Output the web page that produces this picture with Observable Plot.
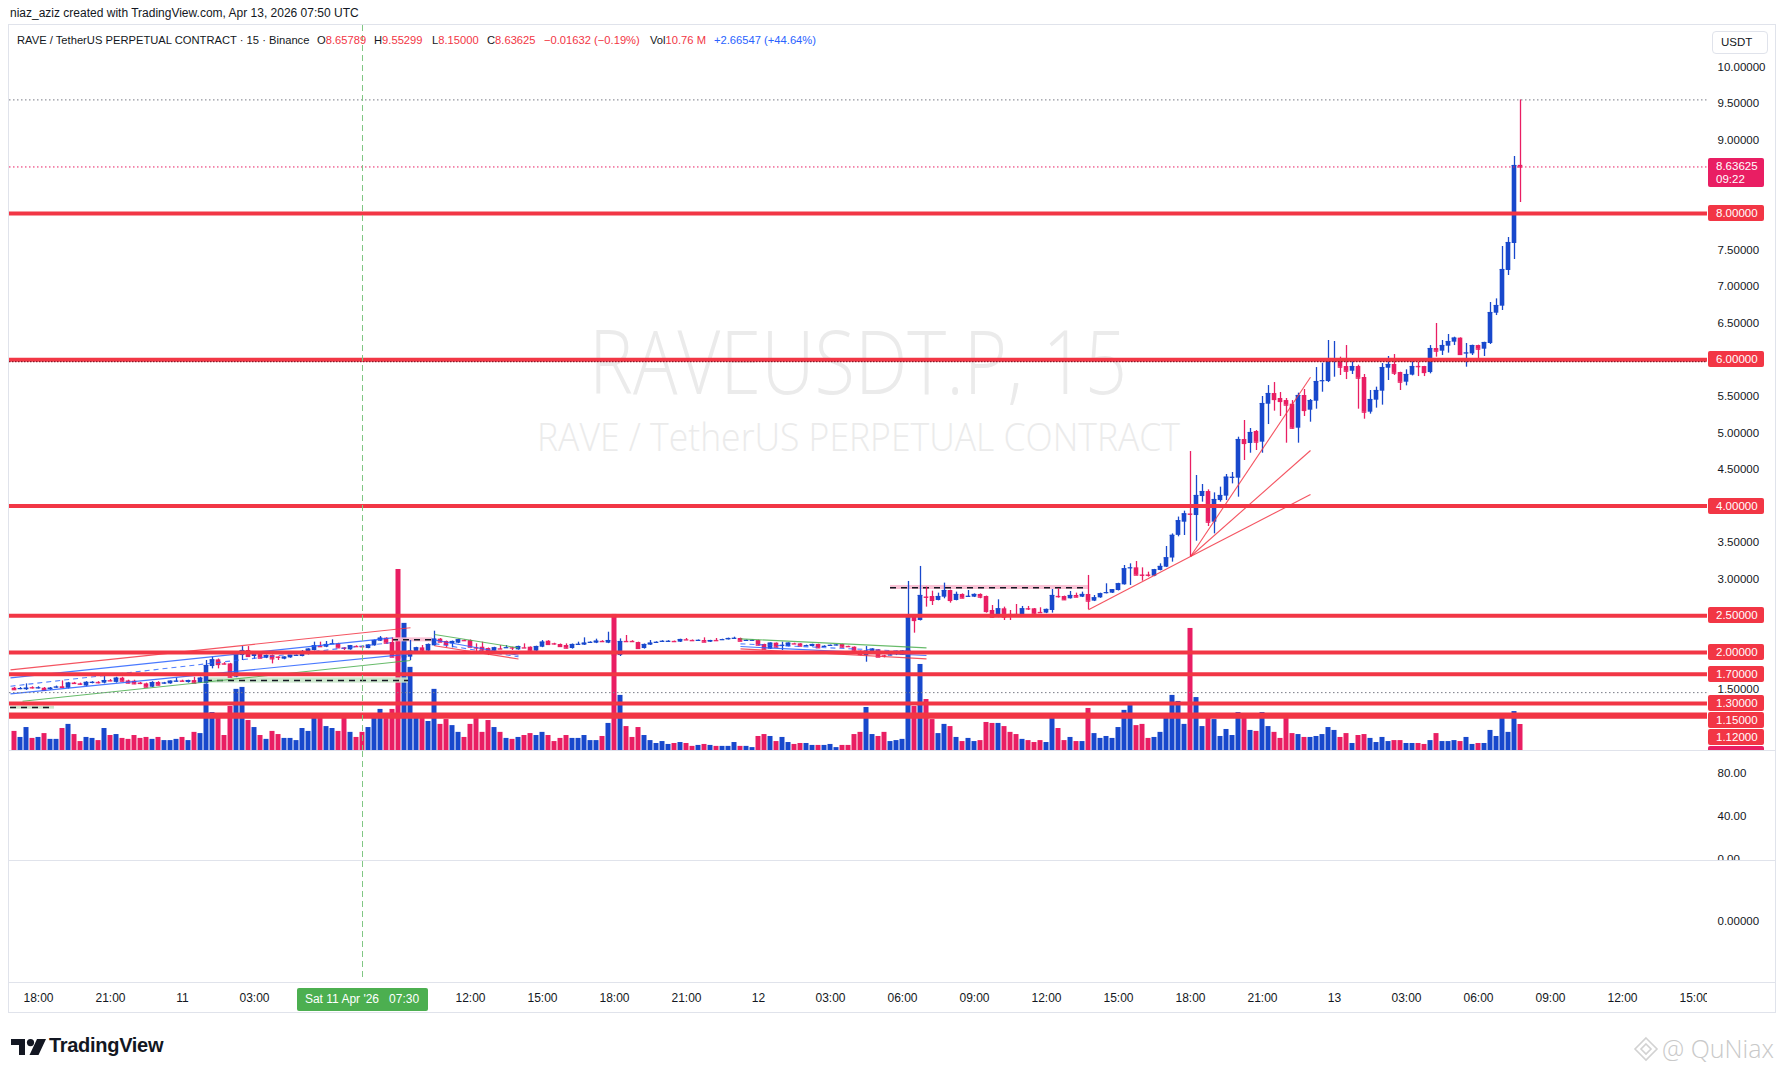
<!DOCTYPE html>
<html><head><meta charset="utf-8">
<script src="https://cdn.jsdelivr.net/npm/d3@7"></script>
<script src="https://cdn.jsdelivr.net/npm/@observablehq/plot@0.6"></script>
<style>
html,body{margin:0;padding:0;background:#fff;}
body{width:1785px;height:1073px;position:relative;overflow:hidden;font-family:"Liberation Sans",Arial,sans-serif;color:#131722;}
.abs{position:absolute;white-space:nowrap;}
.pane{position:absolute;overflow:hidden;}
.pane svg{position:absolute;left:0;top:0;}
.lbl{position:absolute;left:1699px;width:56px;height:16px;line-height:16px;color:#fff;font-size:11.5px;padding-left:8px;box-sizing:border-box;border-radius:2px;}
.sep{position:absolute;left:9px;width:1766px;height:1px;background:#e0e3eb;}
.lg{position:absolute;top:9px;font-size:11.2px;white-space:nowrap;}
.r{color:#f23645}.b{color:#2962ff}
</style></head><body>
<div class="abs" style="left:10px;top:6px;font-size:12px;">niaz_aziz created with TradingView.com, Apr 13, 2026 07:50 UTC</div>
<div class="abs" style="left:8px;top:24px;width:1766px;height:987px;border:1px solid #e0e3eb;"></div>
<div id="p1" class="pane" style="left:9px;top:25px;width:1766px;height:725px;"></div>
<div class="sep" style="top:750px"></div>
<div id="p2" class="pane" style="left:9px;top:751px;width:1766px;height:109px;"></div>
<div class="sep" style="top:860px"></div>
<div id="p3" class="pane" style="left:9px;top:861px;width:1766px;height:121px;"></div>
<div class="sep" style="top:982px"></div>
<div id="tx" class="pane" style="left:9px;top:983px;width:1698px;height:29px;"></div>
<svg class="abs" style="left:11px;top:1039px" width="36" height="16" viewBox="0 0 36 16"><path d="M0 0h14v16H8V6H0z" fill="#131722"/><circle cx="19.5" cy="3.6" r="3.6" fill="#131722"/><path d="M26 0h9l-7.5 16h-9z" fill="#131722"/></svg>
<div class="abs" style="left:49px;top:1034px;font-size:20px;font-weight:bold;letter-spacing:-0.3px;">TradingView</div>
<svg class="abs" style="left:1633px;top:1036px" width="26" height="26" viewBox="0 0 26 26"><g fill="none" stroke="#d2d2d2" stroke-width="1.6"><path d="M13 2l11 11-11 11L2 13z"/><path d="M13 8l5 5-5 5-5-5z"/></g></svg>
<div class="abs" style="left:1662px;top:1031px;font-size:25px;color:#c9c9c9;font-family:'Open Sans',sans-serif;font-weight:300;">@ QuNiax</div>
<script>
const BLUE = "#1848cc", RED = "#e91e63", LEVEL = "#f23645";
const startTime = Date.UTC(2026, 3, 10, 17, 0); // first 15-min candle
const open = [
1.51,1.50,1.49,1.52,1.51,1.51,1.49,1.52,1.53,1.51,
1.58,1.57,1.54,1.585,1.59,1.58,1.615,1.59,1.647,1.61,
1.606,1.58,1.57,1.524,1.588,1.575,1.57,1.60,1.61,1.588,
1.615,1.579,1.57,1.807,1.898,1.845,1.843,1.661,1.957,2.026,
1.944,1.980,1.921,1.957,1.937,1.907,1.925,1.955,1.944,1.971,
2.026,2.082,2.071,2.115,2.117,2.060,2.035,2.082,2.080,2.053,
2.090,2.153,2.194,2.135,1.96,1.92,1.935,2.003,2.062,2.017,
2.090,2.181,2.149,2.117,2.126,2.164,2.162,2.064,2.071,2.053,
2.017,2.050,2.060,2.064,2.035,2.064,2.071,2.017,2.071,2.153,
2.119,2.108,2.094,2.053,2.106,2.099,2.133,2.126,2.151,2.126,
2.162,1.957,2.151,2.151,2.135,2.053,2.099,2.133,2.147,2.147,
2.151,2.140,2.174,2.164,2.160,2.162,2.140,2.164,2.170,2.172,
2.188,2.190,2.160,2.161,2.162,2.108,2.044,2.126,2.092,2.080,
2.119,2.117,2.088,2.080,2.108,2.078,2.092,2.097,2.108,2.082,
2.071,2.017,1.957,1.989,2.035,1.955,1.960,1.987,1.962,2.003,
2.482,2.436,2.757,2.764,2.710,2.755,2.846,2.710,2.792,2.762,
2.755,2.792,2.764,2.573,2.482,2.596,2.520,2.520,2.518,2.598,
2.596,2.547,2.537,2.573,2.766,2.764,2.733,2.778,2.755,2.792,
2.701,2.746,2.813,2.810,2.846,2.924,3.152,3.156,3.058,3.058,
3.042,3.120,3.165,3.29,3.60,3.780,3.892,3.871,4.131,4.199,
3.780,4.076,4.136,4.389,4.382,4.910,4.856,5.020,4.874,5.393,
5.539,5.471,5.443,5.393,5.065,5.512,5.311,5.434,5.710,5.703,
5.979,5.981,5.908,5.844,5.908,5.758,5.284,5.448,5.571,5.885,
5.936,5.826,5.694,5.790,5.910,5.908,5.826,6.154,6.118,6.186,
6.241,6.296,6.089,6.081,6.195,6.145,6.223,6.637,6.733,7.221,
7.590,8.65789];
const high = [
1.52,1.52,1.57,1.53,1.53,1.52,1.52,1.54,1.61,1.59,
1.59,1.58,1.60,1.60,1.60,1.67,1.63,1.66,1.66,1.62,
1.62,1.59,1.58,1.60,1.60,1.59,1.61,1.65,1.62,1.62,
1.66,1.66,1.889,1.935,1.91,1.86,1.85,1.98,2.080,2.080,
1.995,1.99,1.965,1.965,1.94,1.94,1.96,1.965,2.026,2.05,
2.140,2.140,2.149,2.172,2.125,2.065,2.095,2.09,2.09,2.105,
2.17,2.217,2.20,2.199,1.99,2.0,2.162,2.07,2.094,2.115,
2.290,2.19,2.155,2.155,2.18,2.17,2.17,2.117,2.140,2.06,
2.07,2.094,2.094,2.07,2.085,2.117,2.075,2.085,2.162,2.16,
2.125,2.115,2.117,2.115,2.140,2.199,2.145,2.181,2.16,2.276,
2.25,2.185,2.231,2.16,2.14,2.115,2.162,2.145,2.16,2.16,
2.155,2.18,2.19,2.17,2.17,2.199,2.165,2.19,2.18,2.195,
2.208,2.195,2.17,2.17,2.168,2.112,2.13,2.13,2.140,2.13,
2.125,2.12,2.10,2.112,2.112,2.09,2.10,2.105,2.112,2.085,
2.075,2.02,2.080,2.05,2.04,1.96,1.97,2.017,2.022,2.970,
2.505,3.175,2.892,2.837,2.81,2.947,2.85,2.824,2.80,2.846,
2.80,2.80,2.77,2.641,2.719,2.619,2.573,2.655,2.628,2.628,
2.60,2.610,2.592,2.860,2.869,2.77,2.833,2.81,2.824,3.052,
2.778,2.81,2.938,2.86,2.945,3.188,3.211,3.243,3.156,3.097,
3.135,3.211,3.448,3.62,3.85,3.931,4.746,4.418,4.295,4.222,
4.181,4.259,4.432,4.459,4.942,5.170,5.061,5.033,5.498,5.648,
5.689,5.553,5.471,5.443,5.544,5.594,5.457,5.894,5.954,6.264,
6.250,6.036,6.195,5.977,5.926,5.799,5.580,5.626,5.949,6.045,
6.072,5.83,5.863,5.990,5.963,5.91,6.195,6.496,6.264,6.346,
6.309,6.30,6.223,6.20,6.20,6.24,6.783,6.833,7.549,7.672,
8.779,9.55299];
const low = [
1.48,1.49,1.48,1.50,1.50,1.47,1.48,1.51,1.51,1.50,
1.57,1.55,1.53,1.57,1.57,1.57,1.60,1.58,1.60,1.57,
1.56,1.56,1.52,1.52,1.545,1.565,1.565,1.595,1.60,1.58,
1.575,1.575,1.565,1.775,1.775,1.83,1.655,1.655,1.889,1.94,
1.907,1.915,1.915,1.843,1.889,1.90,1.92,1.95,1.94,1.965,
2.02,2.07,2.065,2.11,2.055,2.026,2.03,2.07,2.07,2.05,
2.085,2.15,2.12,1.93,1.90,1.90,1.889,2.0,1.989,2.01,
2.085,2.135,2.062,2.062,2.12,2.15,2.065,2.003,1.980,1.957,
1.989,2.04,2.055,2.026,2.03,2.055,2.01,2.01,2.065,2.10,
2.10,2.075,2.05,2.045,2.10,2.095,2.125,2.12,2.14,2.12,
1.94,1.944,2.14,2.14,2.045,2.045,2.095,2.125,2.14,2.14,
2.14,2.135,2.165,2.155,2.155,2.135,2.135,2.155,2.165,2.17,
2.185,2.15,2.155,2.155,2.09,2.035,2.04,2.065,2.026,2.075,
2.11,2.08,2.08,2.075,2.055,2.07,2.085,2.09,2.065,2.07,
2.01,1.953,1.866,1.985,1.93,1.925,1.955,1.957,1.958,1.98,
2.263,2.43,2.619,2.641,2.705,2.733,2.673,2.705,2.735,2.755,
2.75,2.733,2.537,2.468,2.475,2.436,2.436,2.51,2.51,2.573,
2.52,2.535,2.53,2.537,2.742,2.71,2.73,2.75,2.75,2.582,
2.695,2.74,2.80,2.805,2.84,2.92,2.915,3.05,2.974,3.029,
3.035,3.115,3.16,3.234,3.58,3.598,3.302,3.520,4.054,3.721,
3.621,4.054,4.076,4.304,4.122,4.623,4.723,4.760,4.723,5.115,
5.298,5.225,4.860,5.052,4.860,5.225,5.147,5.325,5.557,5.689,
5.762,5.785,5.730,5.799,5.325,5.188,5.257,5.339,5.380,5.717,
5.785,5.580,5.644,5.78,5.771,5.771,5.808,6.036,6.059,6.091,
6.195,6.059,5.899,6.059,6.009,6.045,6.209,6.605,6.674,7.152,
7.371,8.15];
const close = [
1.49,1.505,1.51,1.515,1.515,1.48,1.51,1.525,1.52,1.58,
1.575,1.565,1.59,1.59,1.585,1.615,1.61,1.647,1.606,1.58,
1.57,1.575,1.524,1.588,1.552,1.58,1.606,1.606,1.605,1.615,
1.579,1.647,1.821,1.898,1.834,1.840,1.661,1.971,2.026,1.944,
1.989,1.921,1.957,1.912,1.933,1.935,1.957,1.96,1.989,2.044,
2.090,2.078,2.108,2.118,2.062,2.056,2.090,2.078,2.076,2.099,
2.162,2.194,2.126,1.935,1.92,1.95,2.017,2.062,2.017,2.108,
2.181,2.140,2.108,2.149,2.172,2.160,2.071,2.060,2.035,2.003,
2.062,2.046,2.064,2.060,2.080,2.060,2.017,2.080,2.140,2.108,
2.115,2.080,2.058,2.108,2.110,2.126,2.137,2.153,2.147,2.162,
1.96,2.149,2.147,2.147,2.053,2.108,2.126,2.137,2.151,2.151,
2.147,2.176,2.170,2.160,2.164,2.140,2.162,2.160,2.174,2.190,
2.192,2.153,2.164,2.165,2.099,2.044,2.126,2.071,2.096,2.126,
2.115,2.085,2.092,2.108,2.062,2.082,2.096,2.101,2.071,2.078,
2.017,1.971,2.017,2.044,1.935,1.951,1.964,1.991,2.017,2.473,
2.436,2.778,2.753,2.710,2.764,2.846,2.710,2.792,2.742,2.766,
2.792,2.755,2.559,2.482,2.596,2.482,2.516,2.516,2.596,2.594,
2.527,2.543,2.587,2.778,2.762,2.719,2.778,2.755,2.792,2.701,
2.746,2.801,2.817,2.856,2.938,3.143,3.156,3.056,3.054,3.054,
3.129,3.175,3.293,3.60,3.80,3.894,3.888,4.145,4.199,3.780,
4.090,4.145,4.395,4.393,4.910,4.856,5.006,4.874,5.402,5.539,
5.457,5.430,5.380,5.065,5.512,5.307,5.443,5.703,5.714,5.977,
5.983,5.899,5.844,5.908,5.749,5.284,5.457,5.580,5.894,5.936,
5.817,5.694,5.799,5.908,5.906,5.826,6.154,6.118,6.195,6.250,
6.296,6.072,6.093,6.195,6.145,6.236,6.646,6.742,7.234,7.603,
8.656,8.63625];
const volume = [ // millions
7.9,5.4,9.5,5.0,5.4,7.0,4.6,4.6,9.1,10.8,
6.6,3.7,5.4,5.0,4.1,9.1,6.2,6.6,5.0,4.6,
6.2,5.0,5.4,4.6,5.4,4.1,4.1,4.6,5.4,4.1,
7.5,7.0,27.3,15.7,14.5,6.2,18.2,25.3,26.1,12.4,
9.5,6.2,4.6,7.9,6.6,5.0,5.0,4.1,9.1,7.9,
13.7,14.5,9.9,9.1,7.9,14.1,7.5,5.4,7.5,9.5,
15.3,17.0,13.2,17.0,74.9,52.6,34.4,13.7,14.1,12.0,
25.3,10.8,12.8,10.3,7.5,5.4,10.8,13.2,7.5,12.4,
9.5,7.5,5.0,4.6,5.4,6.2,7.0,6.2,7.5,6.2,
3.7,5.0,6.2,5.0,5.0,6.2,4.1,4.1,5.8,11.2,
56.3,22.8,9.9,5.4,9.5,6.2,4.1,2.9,3.7,2.5,
2.9,3.3,2.9,1.7,2.1,2.5,2.1,1.7,1.7,1.7,
3.3,1.7,1.7,1.2,5.8,6.6,5.8,3.7,5.4,3.3,
2.5,2.9,2.9,2.1,2.1,2.1,2.5,1.2,2.1,2.1,
6.6,7.5,17.8,6.6,5.8,7.5,3.7,4.1,4.6,41.4,
18.2,35.6,21.1,12.8,7.0,10.8,9.9,5.4,3.7,5.0,
3.7,4.1,11.6,11.2,11.2,9.9,7.5,6.6,4.6,4.1,
3.3,4.1,3.3,13.7,9.1,4.1,5.4,3.7,3.7,17.4,
7.0,5.0,5.8,5.0,9.5,16.6,18.6,10.3,10.8,5.0,
5.4,7.5,14.9,22.8,20.3,10.8,50.5,21.9,9.9,13.7,
12.8,5.8,8.7,6.2,15.7,14.1,8.3,7.9,15.7,9.9,
7.5,5.0,13.2,7.0,6.6,5.4,5.4,5.8,6.6,9.5,
8.3,5.4,7.0,2.9,6.2,6.6,5.0,3.3,5.4,3.7,
4.1,4.1,2.9,2.9,2.9,2.5,4.1,7.0,3.7,3.7,
4.1,3.7,5.4,2.5,2.9,2.9,8.3,5.8,14.5,7.5,
16.1,10.76];

const levels = [8.0, 6.0, 4.0, 2.5, 2.0, 1.7, 1.3, 1.15, 1.12];
const priceTicks = [10, 9.5, 9, 7.5, 7, 6.5, 5.5, 5, 4.5, 3.5, 3, 1.5];
const lastPrice = 8.63625, sessionHigh = 9.55299, greyDotted = 1.45, darkDotted = 5.975;
const crossTime = new Date("2026-04-11T07:30Z");
const tickTimes = ["2026-04-10T18:00Z","2026-04-10T21:00Z","2026-04-11T00:00Z","2026-04-11T03:00Z","2026-04-11T12:00Z","2026-04-11T15:00Z","2026-04-11T18:00Z","2026-04-11T21:00Z","2026-04-12T00:00Z","2026-04-12T03:00Z","2026-04-12T06:00Z","2026-04-12T09:00Z","2026-04-12T12:00Z","2026-04-12T15:00Z","2026-04-12T18:00Z","2026-04-12T21:00Z","2026-04-13T00:00Z","2026-04-13T03:00Z","2026-04-13T06:00Z","2026-04-13T09:00Z","2026-04-13T12:00Z","2026-04-13T15:00Z"];
const tickLabels = ["18:00","21:00","11","03:00","12:00","15:00","18:00","21:00","12","03:00","06:00","09:00","12:00","15:00","18:00","21:00","13","03:00","06:00","09:00","12:00","15:00"];

// drawings: trend lines [t1, p1, t2, p2, color]
const trendSolid = [
 ["2026-04-10T16:50Z",1.761,"2026-04-11T09:30Z",2.336,"#f23645"],
 ["2026-04-10T16:50Z",1.652,"2026-04-11T08:45Z",2.199,"#2962ff"],
 ["2026-04-10T16:50Z",1.433,"2026-04-11T09:30Z",1.980,"#2962ff"],
 ["2026-04-10T17:20Z",1.333,"2026-04-11T09:30Z",1.889,"#4caf50"],
 ["2026-04-11T10:30Z",2.244,"2026-04-11T14:00Z",2.062,"#4caf50"],
 ["2026-04-11T10:30Z",2.170,"2026-04-11T14:00Z",1.960,"#2962ff"],
 ["2026-04-11T10:30Z",2.090,"2026-04-11T14:00Z",1.910,"#f23645"],
 ["2026-04-11T23:15Z",2.185,"2026-04-12T07:00Z",2.062,"#4caf50"],
 ["2026-04-11T23:15Z",2.080,"2026-04-12T07:00Z",1.957,"#2962ff"],
 ["2026-04-11T23:15Z",2.048,"2026-04-12T07:00Z",1.912,"#f23645"],
 ["2026-04-12T13:45Z",2.582,"2026-04-12T18:00Z",3.311,"#f23645"],
 ["2026-04-12T18:00Z",3.311,"2026-04-12T23:00Z",5.762,"#f23645"],
 ["2026-04-12T18:00Z",3.311,"2026-04-12T23:00Z",4.760,"#f23645"],
 ["2026-04-12T18:00Z",3.311,"2026-04-12T23:00Z",4.158,"#f23645"]
];
const trendDashed = [
 ["2026-04-10T16:50Z",1.538,"2026-04-11T08:45Z",2.135,"#2962ff"],
 ["2026-04-11T10:30Z",2.120,"2026-04-11T14:00Z",1.940,"#2962ff"],
 ["2026-04-11T23:15Z",2.117,"2026-04-12T07:00Z",2.003,"#2962ff"]
];
// zones [t1, t2, pLow, pHigh, mid, fill]
const zones = [
 ["2026-04-10T16:50Z","2026-04-10T18:40Z",1.224,1.264,1.246,"#c8e6c9"],
 ["2026-04-11T01:00Z","2026-04-11T09:25Z",1.579,1.652,1.615,"#c8e6c9"],
 ["2026-04-11T08:45Z","2026-04-11T10:25Z",2.144,2.199,2.172,"#f8bbd0"],
 ["2026-04-12T05:30Z","2026-04-12T13:45Z",2.860,2.915,2.883,"#f8bbd0"]
];

const n = Math.min(open.length, high.length, low.length, close.length, volume.length);
const candles = d3.range(n).map(i => ({
  t: new Date(startTime + i * 15 * 60000), open: open[i], high: high[i], low: low[i], close: close[i], volume: volume[i]
}));
const dir = d => d.close >= d.open ? BLUE : RED;
const MIN = 60000;
const xDomain = [new Date(Date.UTC(2026,3,10,16,47,30)), new Date(Date.UTC(2026,3,13,15,32,30))];
const FONT = "'Liberation Sans', Arial, sans-serif";
const styleBase = {background: "none", maxWidth: "none", fontFamily: FONT, fontSize: "11.5px", color: "#131722", overflow: "visible"};
const tl = a => ({x1: new Date(a[0]), y1: a[1], x2: new Date(a[2]), y2: a[3], c: a[4]});
const zn = a => ({x1: new Date(a[0]), x2: new Date(a[1]), y1: a[2], y2: a[3], mid: a[4], c: a[5]});

// --- volume overlay (behind) ---
const volPlot = Plot.plot({
  width: 1766, height: 725, marginLeft: 0, marginRight: 68, marginTop: 0, marginBottom: 0,
  x: {type: "utc", domain: xDomain, axis: null},
  y: {domain: [0, 300], axis: null},
  color: {type: "identity"},
  style: styleBase,
  marks: [
    Plot.rect(candles, {x1: d => new Date(+d.t - 6.25*MIN), x2: d => new Date(+d.t + 6.25*MIN), y1: 0, y2: "volume", fill: dir})
  ]
});

// --- price pane ---
const pricePlot = Plot.plot({
  width: 1766, height: 725, marginLeft: 0, marginRight: 68, marginTop: 0, marginBottom: 0,
  x: {type: "utc", domain: xDomain, axis: null},
  y: {domain: [0.659, 10.570], axis: null},
  color: {type: "identity"},
  style: styleBase,
  marks: [
    Plot.rect(zones.map(zn), {x1: "x1", x2: "x2", y1: "y1", y2: "y2", fill: "c", fillOpacity: 0.9}),
    Plot.ruleY(zones.map(zn), {x1: "x1", x2: "x2", y: "mid", stroke: "#131722", strokeWidth: 1.6, strokeDasharray: "6,5"}),
    Plot.ruleX(candles, {x: "t", y1: "low", y2: "high", stroke: dir, strokeWidth: 1.3}),
    Plot.rect(candles, {x1: d => new Date(+d.t - 5.75*MIN), x2: d => new Date(+d.t + 5.75*MIN), y1: "open", y2: "close", fill: dir}),
    Plot.ruleY(candles, {x1: d => new Date(+d.t - 5.75*MIN), x2: d => new Date(+d.t + 5.75*MIN), y: "close", stroke: dir, strokeWidth: 1.2}),
    Plot.link(trendSolid.map(tl), {x1: "x1", y1: "y1", x2: "x2", y2: "y2", stroke: "c", strokeWidth: 1.1, strokeOpacity: 0.85}),
    Plot.link(trendDashed.map(tl), {x1: "x1", y1: "y1", x2: "x2", y2: "y2", stroke: "c", strokeWidth: 1.1, strokeOpacity: 0.8, strokeDasharray: "5,4"}),
    Plot.ruleY([sessionHigh], {stroke: "#787b86", strokeWidth: 1, strokeDasharray: "1.5,2.5"}),
    Plot.ruleY([lastPrice], {stroke: RED, strokeWidth: 1, strokeDasharray: "1.5,2.5"}),
    Plot.ruleY([greyDotted], {stroke: "#787b86", strokeWidth: 1, strokeDasharray: "1.5,2.5"}),
    Plot.ruleY(levels, {stroke: LEVEL, strokeWidth: 4}),
    Plot.ruleY([darkDotted], {stroke: "#8e1a2a", strokeWidth: 1.2, strokeDasharray: "1.5,1.5"}),
    Plot.ruleX([crossTime], {stroke: "#81c784", strokeWidth: 1, strokeDasharray: "6,4"}),
    Plot.axisY({anchor: "right", ticks: priceTicks, tickFormat: d3.format(".5f"), tickSize: 0, tickPadding: 10, fill: "#131722"})
  ]
});

const p1 = document.getElementById("p1");
// watermark (behind everything)
const wm = document.createElementNS("http://www.w3.org/2000/svg", "svg");
wm.setAttribute("width", 1766); wm.setAttribute("height", 725);
wm.innerHTML = `<text x="580" y="369" font-size="88" textLength="538" lengthAdjust="spacingAndGlyphs" fill="#ebebeb" font-family="'Open Sans',sans-serif" font-weight="300">RAVEUSDT.P, 15</text>
<text x="528" y="426" font-size="38" textLength="643" lengthAdjust="spacingAndGlyphs" fill="#ebebeb" font-family="'Open Sans',sans-serif" font-weight="300">RAVE / TetherUS PERPETUAL CONTRACT</text>`;
p1.appendChild(wm);
p1.appendChild(volPlot);
p1.appendChild(pricePlot);

// legend
const fmt5 = d3.format(".5f");
const legendParts = [
  [8, `RAVE / TetherUS PERPETUAL CONTRACT · 15 · Binance`],
  [308, `O<span class="r">${fmt5(open[n-1])}</span>`],
  [365, `H<span class="r">${fmt5(high[n-1])}</span>`],
  [423, `L<span class="r">${fmt5(low[n-1])}</span>`],
  [478, `C<span class="r">${fmt5(close[n-1])}</span>`],
  [535, `<span class="r">−0.01632 (−0.19%)</span>`],
  [641, `Vol<span class="r">${volume[n-1].toFixed(2)} M</span>`],
  [705, `<span class="b">+2.66547 (+44.64%)</span>`]
];
for (const [x, h] of legendParts) {
  const s = document.createElement("div"); s.className = "lg"; s.style.left = x + "px"; s.innerHTML = h; p1.appendChild(s);
}
// USDT button
const ub = document.createElement("div");
ub.style.cssText = "position:absolute;left:1703px;top:6px;width:56px;height:23px;border:1px solid #e0e3eb;border-radius:4px;box-sizing:border-box;font-size:11.5px;line-height:21px;padding-left:8px;";
ub.textContent = "USDT"; p1.appendChild(ub);

// axis labels for levels and volume
const yP = pricePlot.scale("y"), yV = volPlot.scale("y");
const items = levels.map(v => ({y: yP.apply(v), text: fmt5(v), bg: LEVEL}));
items.push({y: yV.apply(volume[n-1]), text: volume[n-1].toFixed(2) + " M", bg: close[n-1] >= open[n-1] ? BLUE : RED});
items.sort((a, b) => a.y - b.y);
let prev = -1e9;
for (const it of items) {
  const top = Math.max(it.y - 8, prev + 17); prev = top;
  const d = document.createElement("div"); d.className = "lbl"; d.style.top = top + "px"; d.style.background = it.bg; d.textContent = it.text; p1.appendChild(d);
}
// last price label
const lp = document.createElement("div");
lp.className = "lbl"; lp.style.top = (yP.apply(lastPrice) - 8) + "px"; lp.style.height = "29px"; lp.style.lineHeight = "13px"; lp.style.paddingTop = "2px";
lp.style.background = RED; lp.innerHTML = fmt5(lastPrice) + "<br>09:22"; p1.appendChild(lp);

// --- pane 2 ---
document.getElementById("p2").appendChild(Plot.plot({
  width: 1766, height: 109, marginLeft: 0, marginRight: 68, marginTop: 0, marginBottom: 1,
  x: {type: "utc", domain: xDomain, axis: null},
  y: {domain: [0, 100.5], axis: null},
  style: styleBase,
  marks: [
    Plot.ruleX([crossTime], {stroke: "#81c784", strokeDasharray: "6,4"}),
    Plot.axisY({anchor: "right", ticks: [0, 40, 80], tickFormat: d3.format(".2f"), tickSize: 0, tickPadding: 10, fill: "#131722"})
  ]
}));
// --- pane 3 ---
document.getElementById("p3").appendChild(Plot.plot({
  width: 1766, height: 121, marginLeft: 0, marginRight: 68, marginTop: 0, marginBottom: 1,
  x: {type: "utc", domain: xDomain, axis: null},
  y: {domain: [-1, 1], axis: null},
  style: styleBase,
  marks: [
    Plot.ruleX([crossTime], {stroke: "#81c784", strokeDasharray: "6,4"}),
    Plot.axisY({anchor: "right", ticks: [0], tickFormat: d3.format(".5f"), tickSize: 0, tickPadding: 10, fill: "#131722"})
  ]
}));
// --- time axis ---
const tickData = tickTimes.map((t, i) => ({t: new Date(t), label: tickLabels[i]}));
const timePlot = Plot.plot({
  width: 1698, height: 29, marginLeft: 0, marginRight: 0, marginTop: 0, marginBottom: 0,
  x: {type: "utc", domain: xDomain, axis: null},
  style: {...styleBase, fontSize: "12px"},
  marks: [
    Plot.text(tickData, {x: "t", text: "label", frameAnchor: "middle", fill: "#131722", fontSize: 12})
  ]
});
const tx = document.getElementById("tx");
tx.appendChild(timePlot);
const cx = timePlot.scale("x").apply(crossTime);
const gb = document.createElement("div");
gb.style.cssText = `position:absolute;left:${cx - 65.5}px;top:5px;width:131px;height:23px;background:#4caf50;border-radius:2px;color:#fff;font-size:12px;line-height:23px;text-align:center;white-space:pre;`;
gb.textContent = "Sat 11 Apr '26   07:30";
tx.appendChild(gb);
</script>
</body></html>
